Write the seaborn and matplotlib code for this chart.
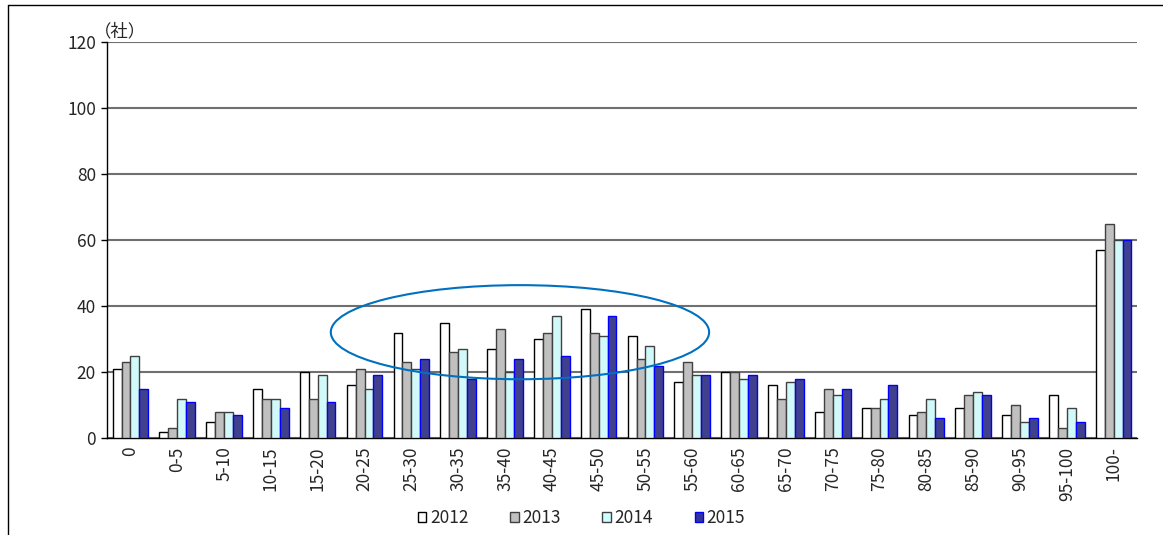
import matplotlib
matplotlib.use("Agg")
import matplotlib.pyplot as plt
import seaborn as sns
import pandas as pd
import numpy as np
from matplotlib.patches import Ellipse, Patch
from matplotlib.lines import Line2D

categories = ["0", "0-5", "5-10", "10-15", "15-20", "20-25", "25-30", "30-35", "35-40",
              "40-45", "45-50", "50-55", "55-60", "60-65", "65-70", "70-75", "75-80",
              "80-85", "85-90", "90-95", "95-100", "100-"]
years = ["2012", "2013", "2014", "2015"]
v2012 = [21, 2, 5, 15, 20, 16, 32, 35, 27, 30, 39, 31, 17, 20, 16, 8, 9, 7, 9, 7, 13, 57]
v2013 = [23, 3, 8, 12, 12, 21, 23, 26, 33, 32, 32, 24, 23, 20, 12, 15, 9, 8, 13, 10, 3, 65]
v2014 = [25, 12, 8, 12, 19, 15, 21, 27, 20, 37, 31, 28, 19, 18, 17, 13, 12, 12, 14, 5, 9, 60]
v2015 = [15, 11, 7, 9, 11, 19, 24, 18, 24, 25, 37, 22, 19, 19, 18, 15, 16, 6, 13, 6, 5, 60]
yticks = [0, 20, 40, 60, 80, 100, 120]
unit_label = "（社）"

fills = ["#FFFFFF", "#C0C0C0", "#CCFFFF", "#333399"]
edges = ["#000000", "#404040", "#404040", "#0000FF"]

rows = []
for y, vals in zip(years, [v2012, v2013, v2014, v2015]):
    for c, v in zip(categories, vals):
        rows.append({"cat": c, "year": y, "value": v})
df = pd.DataFrame(rows)

sns.set_theme(style="white")
plt.rcParams["font.family"] = ["Noto Sans CJK JP", "DejaVu Sans"]

fig = plt.figure(figsize=(11.63, 5.35), dpi=100)
ax = fig.add_axes([0.092, 0.181, 0.8857, 0.7405])

sns.barplot(data=df, x="cat", y="value", hue="year", order=categories, hue_order=years,
            palette=fills, width=0.76, gap=0, ax=ax, legend=False, zorder=3)
for cont, ec in zip(ax.containers, edges):
    for b in cont:
        b.set_edgecolor(ec)
        b.set_linewidth(1.0)

ax.set_ylim(0, 120)
ax.set_xlim(-0.5, len(categories) - 0.5)
ax.set_yticks(yticks)
ax.set_yticklabels([str(t) for t in yticks], fontsize=12.5)
ax.yaxis.grid(True, color="#707070", linewidth=1.5, zorder=0)
ax.set_axisbelow(True)
ax.set_xlabel("")
ax.set_ylabel("")
ax.set_xticks(range(len(categories)))
ax.set_xticklabels(categories, rotation=90, fontsize=12.5)
ax.tick_params(axis="x", which="major", length=0, pad=6)
ax.set_xticks(np.arange(-0.5, len(categories), 1.0), minor=True)
ax.tick_params(axis="x", which="minor", direction="in", length=5, width=1, color="#000000")
ax.tick_params(axis="y", which="major", direction="out", length=4, width=1, color="#000000", left=True, pad=4)
for s in ["top", "right"]:
    ax.spines[s].set_visible(False)
for s in ["left", "bottom"]:
    ax.spines[s].set_color("#000000")
    ax.spines[s].set_linewidth(1.0)

ax.text(-0.013, 1.005, unit_label, transform=ax.transAxes, fontsize=12.5, ha="left", va="bottom")

ell = Ellipse((8.32, 32.1), width=8.08, height=28.5, fill=False, edgecolor="#0070C0",
              linewidth=1.5, zorder=5)
ax.add_patch(ell)

handles = [Patch(facecolor=f, edgecolor=e, linewidth=1.0, label=y) for f, e, y in zip(fills, edges, years)]
fig.legend(handles=handles, loc="center", bbox_to_anchor=(0.50, 0.032), ncol=4, frameon=False,
           fontsize=12.5, handlelength=0.5, handleheight=0.5, handletextpad=0.2, columnspacing=2.4)

fig.add_artist(Line2D([8 / 1163, 8 / 1163], [0, 1 - 5 / 535], transform=fig.transFigure, color="#000000", linewidth=1.0))
fig.add_artist(Line2D([8 / 1163, 1], [1 - 5 / 535, 1 - 5 / 535], transform=fig.transFigure, color="#000000", linewidth=1.0))

fig.savefig("out.png", dpi=100)
